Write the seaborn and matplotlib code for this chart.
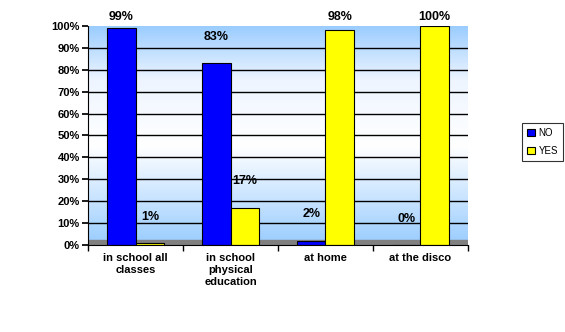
import matplotlib
matplotlib.use("Agg")
import matplotlib.pyplot as plt
import seaborn as sns
import numpy as np
import pandas as pd
from matplotlib.colors import LinearSegmentedColormap

categories = ["in school all\nclasses", "in school\nphysical\neducation", "at home", "at the disco"]
no_values = [99, 83, 2, 0]
yes_values = [1, 17, 98, 100]
series = ["NO", "YES"]
yticks = list(range(0, 101, 10))

df = pd.DataFrame({
    "cat": categories * 2,
    "val": no_values + yes_values,
    "series": ["NO"] * 4 + ["YES"] * 4,
})

sns.set_theme(style="white")
plt.rcParams["font.family"] = ["Liberation Sans", "DejaVu Sans"]
plt.rcParams["text.color"] = "black"
plt.rcParams["xtick.color"] = "black"
plt.rcParams["ytick.color"] = "black"
plt.rcParams["xtick.labelcolor"] = "black"
plt.rcParams["ytick.labelcolor"] = "black"

fig = plt.figure(figsize=(5.65, 3.32), dpi=100)
ax = fig.add_axes([0.156, 0.262, 0.672, 0.66])

# background gradient
cmap = LinearSegmentedColormap.from_list("bg", [(0.0, "#99ccff"), (0.45, "#ffffff"), (0.75, "#eef5ff"), (1.0, "#99ccff")])
grad = np.linspace(1, 0, 256).reshape(-1, 1)
ax.imshow(grad, aspect="auto", cmap=cmap, extent=[-0.5, 3.5, 0, 100], zorder=0)

for t in yticks[1:-1]:
    ax.axhline(t, color="black", lw=1, zorder=1)
ax.axhspan(0, 2.3, color="#808080", zorder=1)

sns.barplot(data=df, x="cat", y="val", hue="series", palette={"NO": "#0000ff", "YES": "#ffff00"},
            saturation=1, width=0.6, edgecolor="black", linewidth=0.8, ax=ax, zorder=2, legend=True)

ax.set_xlim(-0.5, 3.5)
ax.set_ylim(0, 100)
ax.set_yticks(yticks)
ax.set_yticklabels([f"{t}%" for t in yticks], fontsize=8, fontweight="bold")
ax.tick_params(axis="x", labelsize=8)
for lab in ax.get_xticklabels():
    lab.set_fontweight("bold")
ax.set_xlabel("")
ax.set_ylabel("")
ax.set_xticks([0, 1, 2, 3])
ax.set_xticks([-0.5, 0.5, 1.5, 2.5, 3.5], minor=True)
ax.tick_params(axis="x", which="major", length=0, pad=6)
ax.tick_params(axis="x", which="minor", length=4, color="black", direction="out", bottom=True)
ax.tick_params(axis="y", length=4, color="black", direction="out", left=True, pad=2)
for s in ["top", "right"]:
    ax.spines[s].set_visible(False)
ax.spines["left"].set_color("black")
ax.spines["bottom"].set_color("black")
ax.spines["left"].set_linewidth(0.8)
ax.spines["bottom"].set_linewidth(0.8)

# value labels
offs = 0.15
for i, v in enumerate(no_values):
    ax.text(i - offs, min(v + 12, 104), f"{v}%", ha="center", va="center", fontsize=9,
            fontweight="bold", color="black", clip_on=False, zorder=5)
for i, v in enumerate(yes_values):
    ax.text(i + offs, min(v + 12, 104), f"{v}%", ha="center", va="center", fontsize=9,
            fontweight="bold", color="black", clip_on=False, zorder=5)

leg = ax.legend(loc="center left", bbox_to_anchor=(1.13, 0.47), frameon=True, fontsize=7,
                handlelength=0.8, handleheight=0.8, handletextpad=0.4, borderpad=0.5,
                labelspacing=0.8, fancybox=False, edgecolor="black")
leg.get_frame().set_linewidth(0.8)
for txt in leg.get_texts():
    txt.set_color("black")

fig.savefig("out.png", dpi=100, facecolor="white")
